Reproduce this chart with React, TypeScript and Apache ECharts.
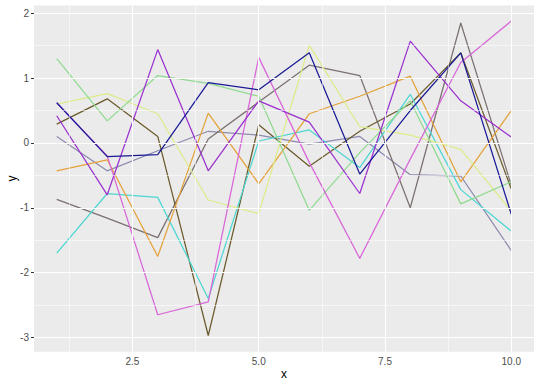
import React, { useEffect, useRef } from "react";
import * as echarts from "echarts";

const xValues = [1, 2, 3, 4, 5, 6, 7, 8, 9, 10];

const seriesNames = ["s1", "s2", "s3", "s4", "s5", "s6", "s7", "s8", "s9", "s10"];
const navy = [0.62, -0.21, -0.18, 0.93, 0.82, 1.39, -0.48, 0.5, 1.39, -1.1];
const purple = [0.42, -0.8, 1.44, -0.43, 0.65, 0.32, -0.78, 1.57, 0.65, 0.09];
const pink = [0.62, -0.2, -2.65, -2.45, 1.32, -0.3, -1.78, -0.25, 1.24, 1.88];
const lightGreen = [1.3, 0.34, 1.04, 0.92, 0.72, -1.04, -0.15, 0.65, -0.94, -0.6];
const yellow = [0.6, 0.76, 0.45, -0.88, -1.09, 1.51, 0.25, 0.12, -0.1, -1.05];
const orange = [-0.43, -0.26, -1.75, 0.46, -0.63, 0.45, 0.72, 1.03, -0.6, 0.5];
const cyan = [-1.7, -0.78, -0.84, -2.4, 0.03, 0.2, -0.38, 0.75, -0.72, -1.36];
const olive = [0.29, 0.68, 0.1, -2.97, 0.28, -0.36, 0.18, 0.6, 1.39, -0.71];
const greyBrown = [-0.87, -1.16, -1.46, 0.06, 0.63, 1.2, 1.04, -1.0, 1.85, -0.65];
const slate = [0.1, -0.43, -0.12, 0.18, 0.12, -0.02, 0.1, -0.49, -0.51, -1.66];

const allSeries = [slate, greyBrown, olive, cyan, orange, yellow, lightGreen, pink, purple, navy];
const colors = ["#8E8AB0", "#7B7070", "#6B5A2C", "#4DD6D2", "#E4A23A", "#DDEB8A", "#8FDA8F", "#D866D8", "#9A30D0", "#1A1A96"];

const xTicks = [2.5, 5, 7.5, 10];
const xMinor = [1.25, 3.75, 6.25, 8.75];
const yTicks = [-3, -2, -1, 0, 1, 2];
const yMinor = [-2.5, -1.5, -0.5, 0.5, 1.5];

export default function App() {
  const ref = useRef<HTMLDivElement>(null);
  useEffect(() => {
    document.body.style.margin = "0";
    const chart = echarts.init(ref.current!, null, { renderer: "svg" });
    const font = "'Liberation Sans', Arial, sans-serif";
    const gridData: any[] = [];
    xTicks.forEach((v) => gridData.push({ xAxis: v, lineStyle: { width: 1.1 } }));
    xMinor.forEach((v) => gridData.push({ xAxis: v, lineStyle: { width: 0.55 } }));
    yTicks.forEach((v) => gridData.push({ yAxis: v, lineStyle: { width: 1.1 } }));
    yMinor.forEach((v) => gridData.push({ yAxis: v, lineStyle: { width: 0.55 } }));

    const series: any[] = [
      {
        type: "line",
        data: [],
        z: 1,
        silent: true,
        markLine: {
          silent: true,
          symbol: "none",
          label: { show: false },
          lineStyle: { color: "#FFFFFF", type: "solid" },
          emphasis: { disabled: true },
          data: gridData,
        },
      },
    ];
    allSeries.forEach((vals, i) => {
      series.push({
        name: seriesNames[i],
        type: "line",
        z: 2,
        symbol: "none",
        lineStyle: { color: colors[i], width: 1.25 },
        itemStyle: { color: colors[i] },
        data: xValues.map((x, j) => [x, vals[j]]),
      });
    });

    chart.setOption({
      animation: false,
      backgroundColor: "#FFFFFF",
      grid: {
        left: 34,
        right: 6,
        top: 5.5,
        bottom: 34.3,
        show: true,
        backgroundColor: "#EBEBEB",
        borderWidth: 0,
        containLabel: false,
        outerBoundsMode: "none",
      },
      xAxis: {
        type: "value",
        min: 0.55,
        max: 10.45,
        name: "x",
        nameLocation: "middle",
        nameGap: 16.5,
        nameMoveOverlap: false,
        nameTextStyle: { fontFamily: font, fontSize: 12, color: "#000" },
        axisLine: { show: false },
        axisTick: { show: true, length: 3, customValues: xTicks, lineStyle: { color: "#333", width: 1 } },
        axisLabel: {
          customValues: xTicks,
          margin: 5,
          fontFamily: font,
          fontSize: 10,
          color: "#4D4D4D",
          formatter: (v: number) => v.toFixed(1),
        },
        splitLine: { show: false },
      },
      yAxis: {
        type: "value",
        min: -3.22,
        max: 2.12,
        name: "y",
        nameLocation: "middle",
        nameRotate: 90,
        nameGap: 16,
        nameMoveOverlap: false,
        nameTextStyle: { fontFamily: font, fontSize: 12, color: "#000" },
        axisLine: { show: false },
        axisTick: { show: true, length: 3, customValues: yTicks, lineStyle: { color: "#333", width: 1 } },
        axisLabel: {
          customValues: yTicks,
          margin: 5,
          fontFamily: font,
          fontSize: 10,
          color: "#4D4D4D",
          formatter: (v: number) => String(Math.round(v)),
        },
        splitLine: { show: false },
      },
      series,
    });
    return () => chart.dispose();
  }, []);
  return <div ref={ref} style={{ width: 540, height: 386 }} />;
}
